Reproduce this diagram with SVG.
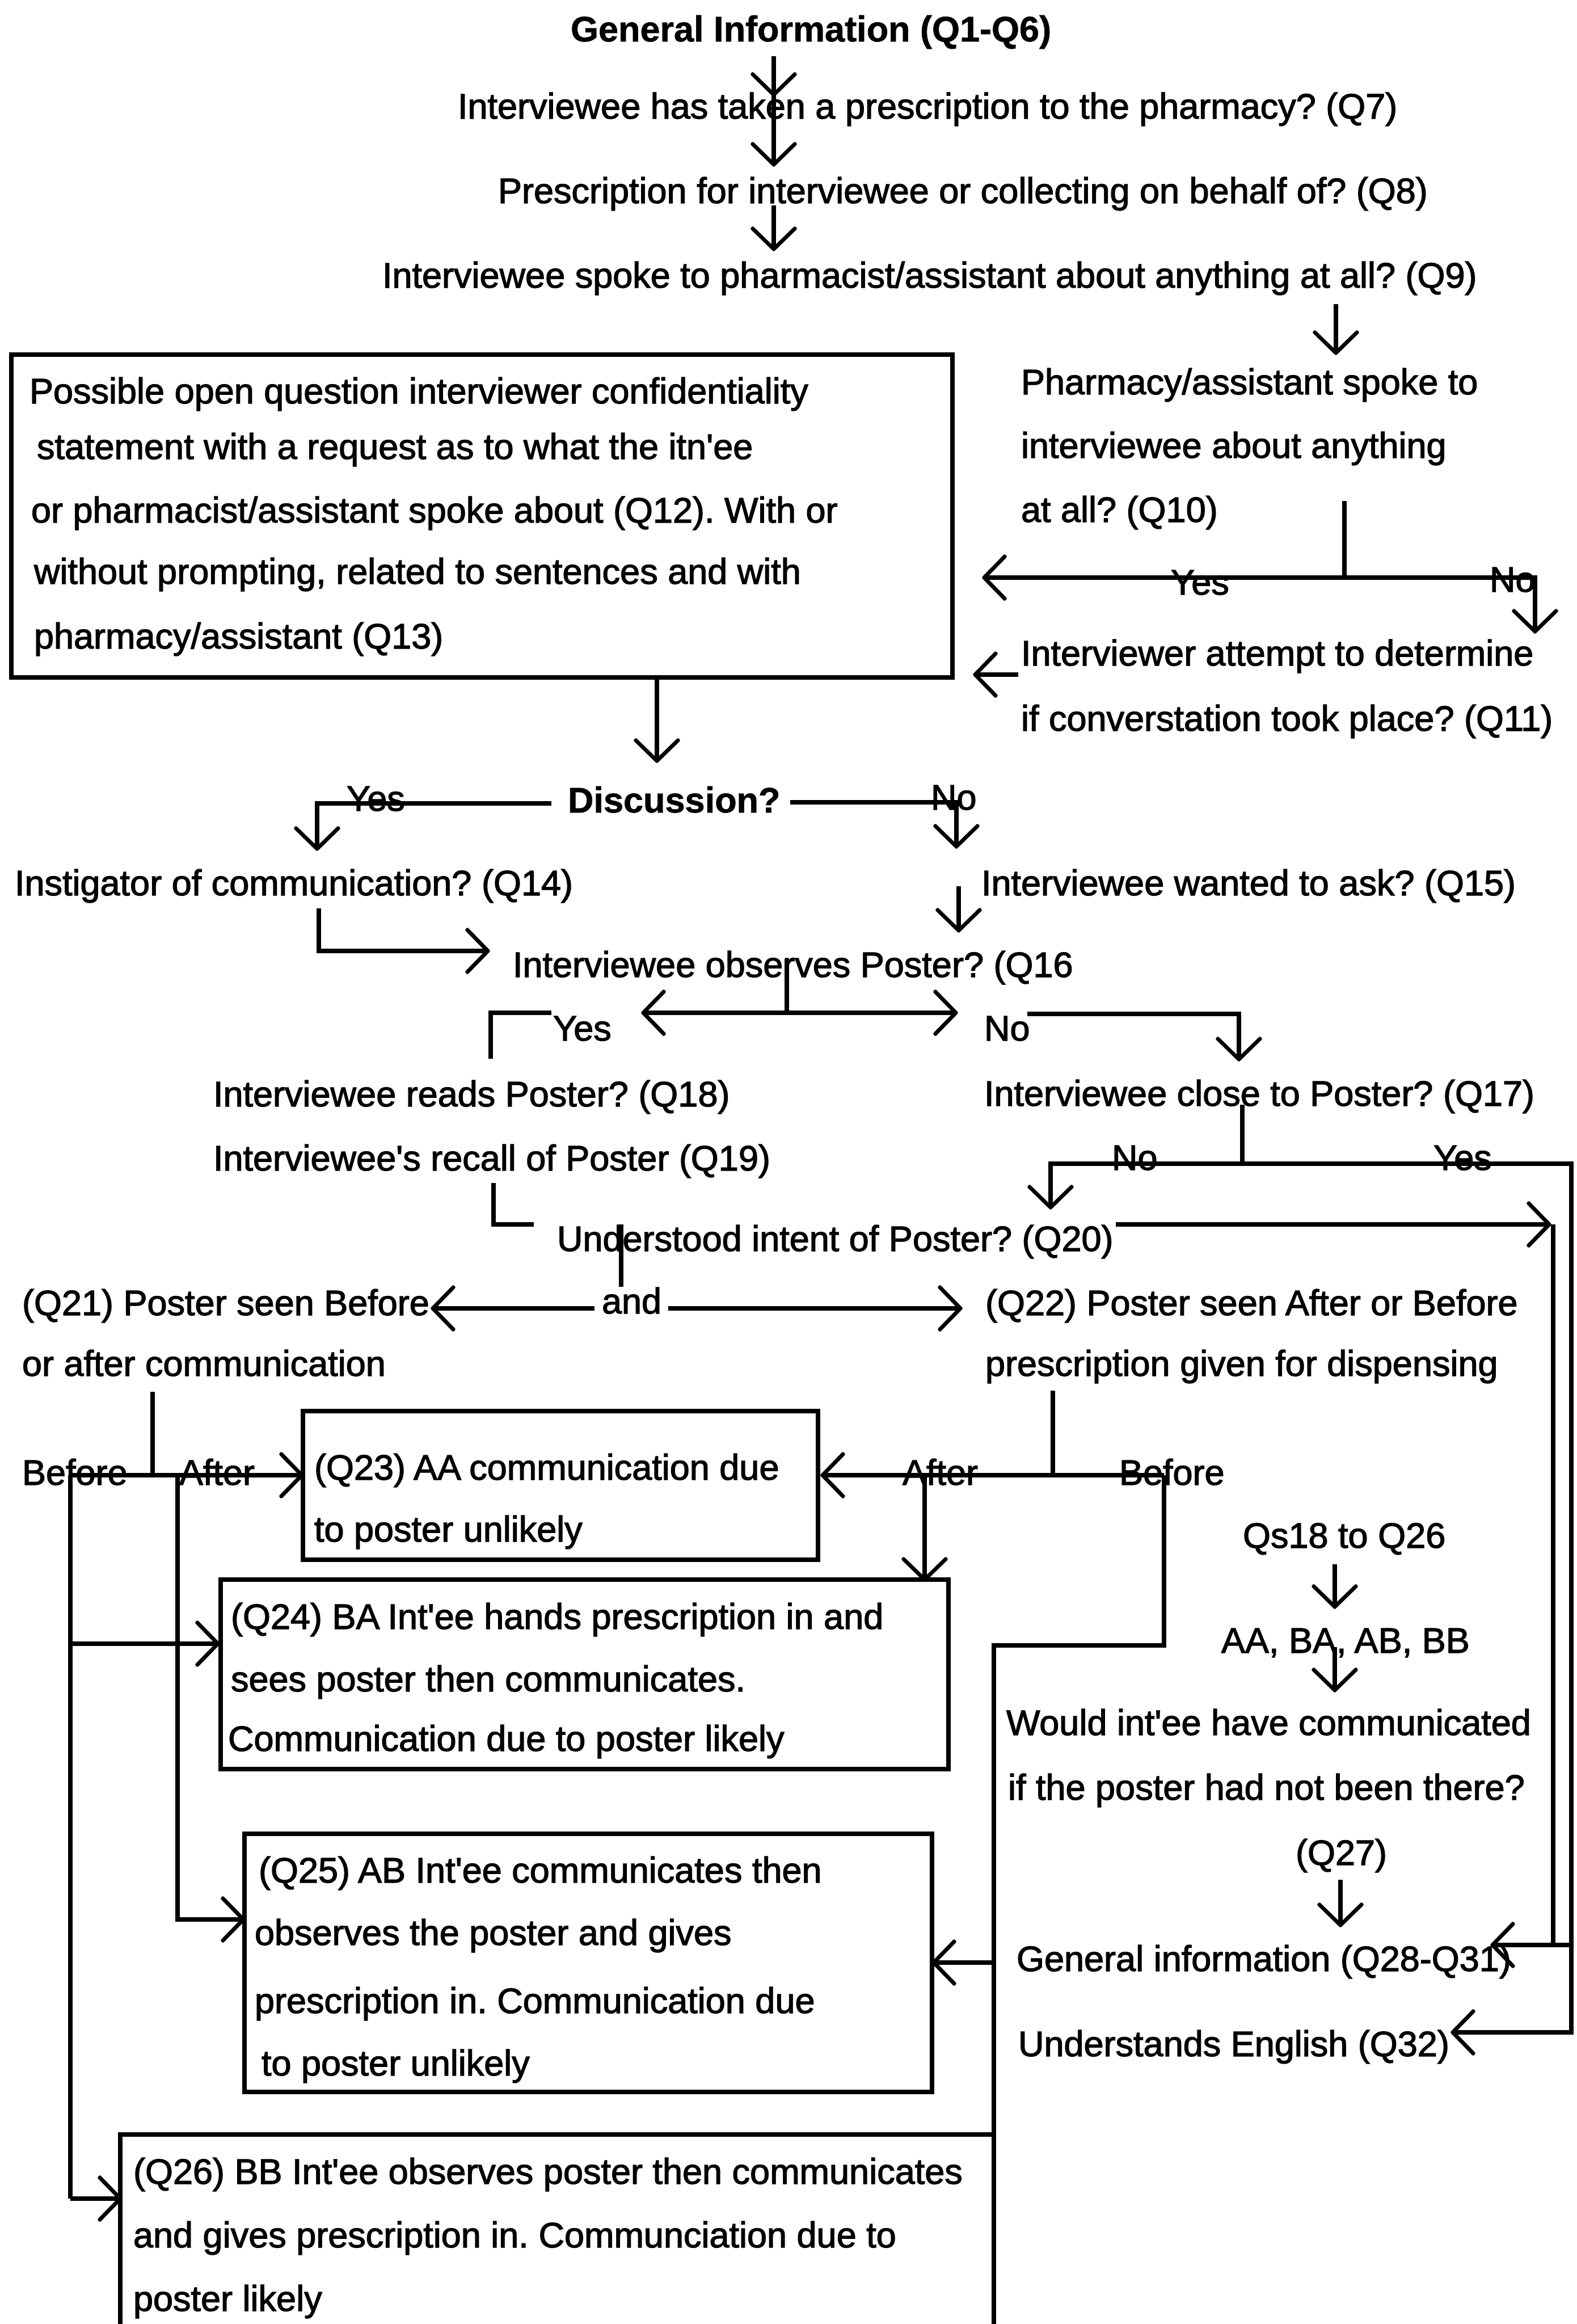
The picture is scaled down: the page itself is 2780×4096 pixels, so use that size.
<svg xmlns="http://www.w3.org/2000/svg" width="2780" height="4096" viewBox="0 0 2780 4096">
<defs>
<style>
text { font-family: "Liberation Sans", Arial, sans-serif; font-size: 63px; fill: #000; stroke: #000; stroke-width: 1.4px; }
.b { font-weight: bold; stroke-width: 0.8px; }
.box { fill: none; stroke: #000; stroke-width: 8; }
.c { fill: none; stroke: #000; stroke-width: 8; stroke-linejoin: miter; }
.a { marker-end: url(#head); }
</style>
<marker id="head" viewBox="-44 -44 50 88" markerWidth="50" markerHeight="88" refX="0" refY="0" orient="auto" markerUnits="userSpaceOnUse">
<path d="M-36,-37 L0,0 L-36,37" fill="none" stroke="#000" stroke-width="7" stroke-linecap="round" stroke-linejoin="round"/>
</marker>
</defs>
<rect width="2780" height="4096" fill="#fff"/>

<!-- connectors -->
<g id="connectors">
<path class="c a" d="M1364,99 V167"/>
<path class="c a" d="M1364,167 V290"/>
<path class="c a" d="M1364,362 V439"/>
<path class="c a" d="M2355,536 V622"/>
<path class="c" d="M2370,883 V1018"/>
<path class="c a" d="M2370,1018 H1735"/>
<path class="c a" d="M2370,1018 H2706 V1113"/>
<path class="c a" d="M1795,1189 H1719"/>
<path class="c a" d="M1158,1194 V1341"/>
<path class="c a" d="M972,1416 H559 V1496"/>
<path class="c a" d="M1393,1414 H1686 V1492"/>
<path class="c a" d="M1690,1562 V1640"/>
<path class="c a" d="M562,1601 V1676 H860"/>
<path class="c" d="M1387,1690 V1785"/>
<path class="c a" d="M1387,1785 H1134"/>
<path class="c a" d="M1387,1785 H1685"/>
<path class="c" d="M972,1785 H865 V1866"/>
<path class="c a" d="M1811,1787 H2184 V1867"/>
<path class="c" d="M2190,1947 V2051"/>
<path class="c a" d="M2190,2051 H1852 V2128"/>
<path class="c a" d="M2190,2051 H2770 V3582 H2561"/>
<path class="c" d="M870,2085 V2158 H941"/>
<path class="c a" d="M1967,2158 H2731"/>
<path class="c" d="M2738,2158 V3428"/>
<path class="c a" d="M2770,3428 H2631"/>
<path class="c" d="M1095,2158 V2268"/>
<path class="c a" d="M1048,2306 H763"/>
<path class="c a" d="M1178,2306 H1693"/>
<path class="c" d="M269,2453 V2600"/>
<path class="c a" d="M124,2600 H532"/>
<path class="c" d="M124,2600 V3875"/>
<path class="c a" d="M124,2897 H384"/>
<path class="c a" d="M124,3875 H212"/>
<path class="c a" d="M313,2600 V3383 H429"/>
<path class="c" d="M1856,2451 V2600"/>
<path class="c a" d="M2052,2600 H1450"/>
<path class="c a" d="M1630,2600 V2784"/>
<path class="c" d="M2052,2600 V2900 H1752 V3762"/>
<path class="c a" d="M1752,3459 H1646"/>
<path class="c a" d="M2353,2757 V2832"/>
<path class="c a" d="M2353,2903 V2979"/>
<path class="c a" d="M2363,3313 V3393"/>
</g>

<!-- branch labels -->
<g id="labels">
<text x="2064" y="1048">Yes</text>
<text x="2626" y="1043">No</text>
<text x="611" y="1429">Yes</text>
<text x="1641" y="1427">No</text>
<text x="975" y="1834">Yes</text>
<text x="1735" y="1834">No</text>
<text x="1960" y="2062">No</text>
<text x="2527" y="2062">Yes</text>
<text x="1061" y="2315">and</text>
<text x="39" y="2617">Before</text>
<text x="316" y="2617">After</text>
<text x="1591" y="2617">After</text>
<text x="1973" y="2617">Before</text>
</g>

<!-- nodes -->
<g id="n-general"><text class="b" x="1006" y="73">General Information (Q1-Q6)</text></g>
<g id="n-q7"><text x="807" y="209">Interviewee has taken a prescription to the pharmacy? (Q7)</text></g>
<g id="n-q8"><text x="878" y="358">Prescription for interviewee or collecting on behalf of? (Q8)</text></g>
<g id="n-q9"><text x="674" y="507">Interviewee spoke to pharmacist/assistant about anything at all? (Q9)</text></g>
<g id="n-q10">
<text x="1800" y="695">Pharmacy/assistant spoke to</text>
<text x="1800" y="807">interviewee about anything</text>
<text x="1800" y="920">at all? (Q10)</text>
</g>
<g id="n-q11">
<text x="1800" y="1173">Interviewer attempt to determine</text>
<text x="1800" y="1288">if converstation took place? (Q11)</text>
</g>
<g id="n-q12">
<rect class="box" x="20" y="625" width="1659" height="569"/>
<text x="52" y="711">Possible open question interviewer confidentiality</text>
<text x="65" y="809">statement with a request as to what the itn'ee</text>
<text x="55" y="921">or pharmacist/assistant spoke about (Q12). With or</text>
<text x="60" y="1029">without prompting, related to sentences and with</text>
<text x="60" y="1143">pharmacy/assistant (Q13)</text>
</g>
<g id="n-discussion"><text class="b" x="1001" y="1432">Discussion?</text></g>
<g id="n-q14"><text x="26" y="1578">Instigator of communication? (Q14)</text></g>
<g id="n-q15"><text x="1730" y="1578">Interviewee wanted to ask? (Q15)</text></g>
<g id="n-q16"><text x="904" y="1722">Interviewee observes Poster? (Q16</text></g>
<g id="n-q18"><text x="376" y="1950">Interviewee reads Poster? (Q18)</text></g>
<g id="n-q17"><text x="1735" y="1949">Interviewee close to Poster? (Q17)</text></g>
<g id="n-q19"><text x="376" y="2063">Interviewee's recall of Poster (Q19)</text></g>
<g id="n-q20"><text x="982" y="2205">Understood intent of Poster? (Q20)</text></g>
<g id="n-q21">
<text x="39" y="2318">(Q21) Poster seen Before</text>
<text x="39" y="2425">or after communication</text>
</g>
<g id="n-q22">
<text x="1737" y="2318">(Q22) Poster seen After or Before</text>
<text x="1737" y="2425">prescription given for dispensing</text>
</g>
<g id="n-q23">
<rect class="box" x="534" y="2487" width="908" height="262"/>
<text x="554" y="2608">(Q23) AA communication due</text>
<text x="554" y="2717">to poster unlikely</text>
</g>
<g id="n-q24">
<rect class="box" x="389" y="2784" width="1283" height="334"/>
<text x="407" y="2871">(Q24) BA Int'ee hands prescription in and</text>
<text x="407" y="2981">sees poster then communicates.</text>
<text x="402" y="3086">Communication due to poster likely</text>
</g>
<g id="n-q25">
<rect class="box" x="431" y="3232" width="1212" height="455"/>
<text x="456" y="3318">(Q25) AB Int'ee communicates then</text>
<text x="449" y="3428">observes the poster and gives</text>
<text x="449" y="3548">prescription in. Communication due</text>
<text x="461" y="3658">to poster unlikely</text>
</g>
<g id="n-q26">
<rect class="box" x="212" y="3762" width="1540" height="400"/>
<text x="235" y="3849">(Q26) BB Int'ee observes poster then communicates</text>
<text x="235" y="3961">and gives prescription in. Communciation due to</text>
<text x="235" y="4073">poster likely</text>
</g>
<g id="n-qs18"><text x="2191" y="2728">Qs18 to Q26</text></g>
<g id="n-groups"><text x="2153" y="2913">AA, BA, AB, BB</text></g>
<g id="n-q27">
<text x="1774" y="3058">Would int'ee have communicated</text>
<text x="1777" y="3172">if the poster had not been there?</text>
<text x="2284" y="3287">(Q27)</text>
</g>
<g id="n-q28"><text x="1792" y="3474">General information (Q28-Q31)</text></g>
<g id="n-q32"><text x="1795" y="3624">Understands English (Q32)</text></g>
</svg>
